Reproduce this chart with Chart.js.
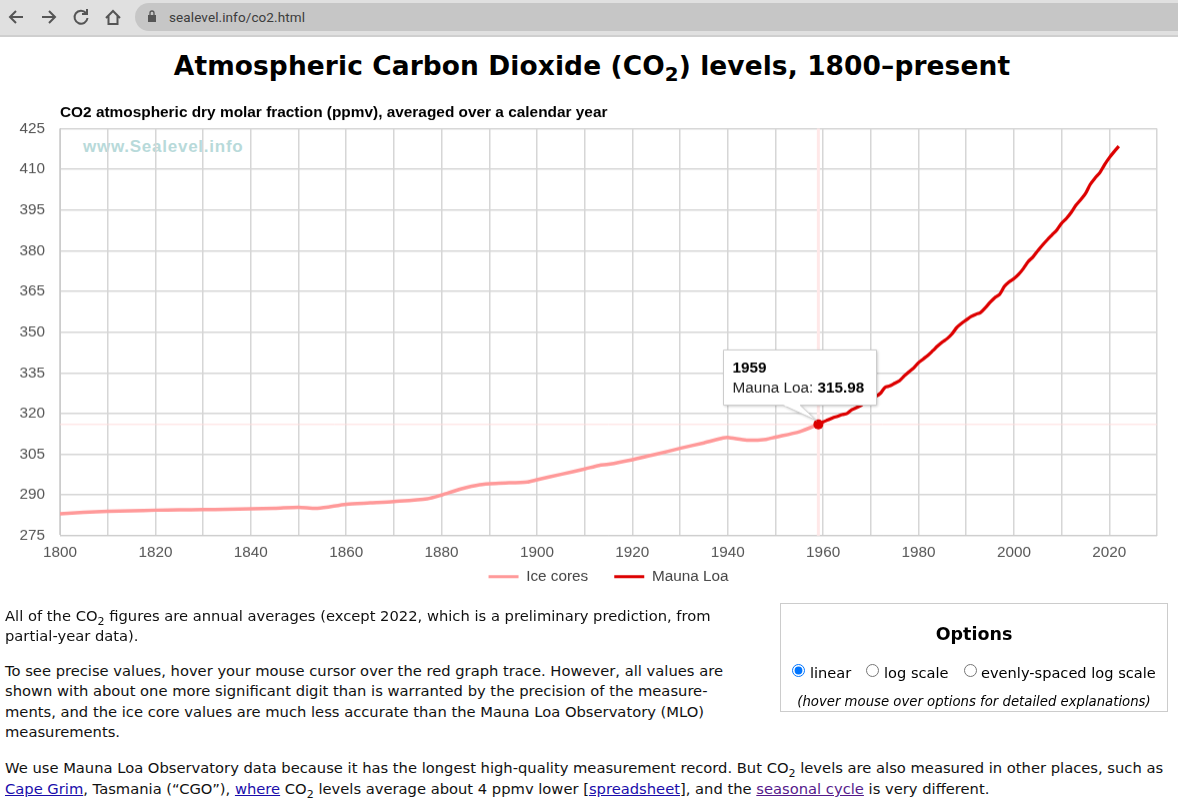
<!DOCTYPE html>
<html><head><meta charset="utf-8">
<script src="https://cdn.jsdelivr.net/npm/chart.js@4"></script>
<style>
html,body{margin:0;padding:0;background:#fff;width:1178px;height:806px;overflow:hidden;font-family:"DejaVu Sans",sans-serif;color:#000}
#bar{position:absolute;left:0;top:0;width:1178px;height:35px;background:#e0e0e0;border-bottom:2px solid #cfcfcf;box-sizing:content-box}
#pill{position:absolute;left:135px;top:3px;width:1043px;height:28px;background:#c6c6c6;border-radius:14px 0 0 14px}
#url{position:absolute;left:169px;top:9px;font:13.5px Roboto,sans-serif;color:#3c3c3c;letter-spacing:.1px}
#bar svg{position:absolute;left:0;top:0}
h1{position:absolute;left:0;top:50px;width:1184px;margin:0;text-align:center;font:bold 26.45px "DejaVu Sans",sans-serif;white-space:nowrap;letter-spacing:.1px}
h1 sub{font-size:.75em;line-height:0}
#mark{position:absolute;left:83px;top:137px;font:bold 17px "Liberation Sans",sans-serif;color:#b8dada;letter-spacing:.75px}
#wrap{position:absolute;left:0;top:100px;width:1178px;height:520.5px}
.t{position:absolute;white-space:nowrap;font-size:14.73px;line-height:20px;left:5px;color:#111}
.t sub{font-size:.75em;line-height:0}
.t a{color:#1a0dab}
.t a.v{color:#551a8b}
#opt{position:absolute;left:780px;top:603px;width:386px;height:107px;border:1px solid #ccc}
#opt div{position:absolute;white-space:nowrap;font-size:14.6px}
#opt input{position:absolute;margin:0;width:13px;height:13px}
</style></head><body>
<div id="bar">
<div id="pill"></div>
<svg width="170" height="35" fill="none" stroke="#555" stroke-width="2">
<path d="M23 17H10M16 11l-6 6 6 6"/>
<path d="M42 17h13M49 11l6 6-6 6"/>
<path d="M86 13a6.5 6.5 0 1 0 1.5 5M87 9v5h-5"/>
<path d="M106 18l7-7 7 7M108.500 16v8h9v-8"/>
<rect x="148" y="15" width="8" height="7" fill="#555" stroke="none"/><path d="M150 15v-2a2 2 0 0 1 4 0v2" stroke-width="1.300"/>
</svg>
<div id="url">sealevel.info/co2.html</div>
</div>
<h1>Atmospheric Carbon Dioxide (CO<sub>2</sub>) levels, 1800–present</h1>
<div id="mark">www.Sealevel.info</div>
<div id="wrap"><canvas id="c"></canvas></div>
<div class="t" style="top:606px">All of the CO<sub>2</sub> figures are annual averages (except 2022, which is a preliminary prediction, from</div>
<div class="t" style="top:626px">partial-year data).</div>
<div class="t" style="top:661px">To see precise values, hover your mouse cursor over the red graph trace. However, all values are</div>
<div class="t" style="top:681px">shown with about one more significant digit than is warranted by the precision of the measure-</div>
<div class="t" style="top:702px">ments, and the ice core values are much less accurate than the Mauna Loa Observatory (MLO)</div>
<div class="t" style="top:722px">measurements.</div>
<div class="t" style="top:758px">We use Mauna Loa Observatory data because it has the longest high-quality measurement record. But CO<sub>2</sub> levels are also measured in other places, such as</div>
<div class="t" style="top:779px"><a href="#">Cape Grim</a>, Tasmania (“CGO”), <a href="#">where</a> CO<sub>2</sub> levels average about 4 ppmv lower [<a href="#">spreadsheet</a>], and the <a class="v" href="#">seasonal cycle</a> is very different.</div>
<div id="opt">
<div style="left:0;width:386px;text-align:center;top:20px;font-weight:bold;font-size:17.5px">Options</div>
<input type="radio" name="o" checked style="left:11px;top:60px">
<div style="left:29px;top:60px">linear</div>
<input type="radio" name="o" style="left:85px;top:60px">
<div style="left:103px;top:60px">log scale</div>
<input type="radio" name="o" style="left:183px;top:60px">
<div style="left:200px;top:60px">evenly-spaced log scale</div>
<div style="left:0;width:386px;text-align:center;top:90px;font-size:13.25px;font-style:italic">(hover mouse over options for detailed explanations)</div>
</div>
<script>
const chartTitle = "CO2 atmospheric dry molar fraction (ppmv), averaged over a calendar year";
const iceYears = [1800,1805,1810,1815,1820,1825,1830,1835,1840,1845,1850,1854,1860,1865,1870,1877,1880,1884,1888,1892,1898,1900,1905,1910,1913,1915,1920,1925,1930,1935,1939,1940,1944,1948,1950,1955,1959];
const iceValues = [283.1,283.6,284.0,284.2,284.4,284.5,284.6,284.7,284.9,285.1,285.5,285.1,286.6,287.1,287.6,288.6,290.0,292.2,293.8,294.3,294.8,295.6,297.6,299.6,300.9,301.3,303.0,305.0,307.2,309.2,311.0,311.2,310.2,310.5,311.3,313.3,315.98];
const mloYears = [1959,1960,1961,1962,1963,1964,1965,1966,1967,1968,1969,1970,1971,1972,1973,1974,1975,1976,1977,1978,1979,1980,1981,1982,1983,1984,1985,1986,1987,1988,1989,1990,1991,1992,1993,1994,1995,1996,1997,1998,1999,2000,2001,2002,2003,2004,2005,2006,2007,2008,2009,2010,2011,2012,2013,2014,2015,2016,2017,2018,2019,2020,2021,2022];
const mloValues = [315.98,316.91,317.64,318.45,318.99,319.62,320.04,321.37,322.18,323.05,324.62,325.68,326.32,327.46,329.68,330.19,331.13,332.03,333.84,335.41,336.84,338.76,340.12,341.48,343.15,344.87,346.35,347.61,349.31,351.69,353.20,354.45,355.70,356.54,357.21,358.96,360.97,362.74,363.88,366.84,368.54,369.71,371.32,373.45,375.98,377.70,379.98,382.09,384.02,385.83,387.64,390.10,391.85,394.06,396.74,398.81,401.01,404.41,406.76,408.72,411.66,414.24,416.45,418.5];
const seriesNames = ["Ice cores","Mauna Loa"];
const hoverYear = 1959, hoverValue = 315.98;
const labelFont = '"Liberation Sans"';

const callout = {
  id:'callout',
  afterLayout(ch){ ch.legend.top -= 27.1; },
  beforeDatasetsDraw(ch){
    const {ctx,chartArea:a,scales:{x,y}} = ch;
    const px=x.getPixelForValue(hoverYear), py=y.getPixelForValue(hoverValue);
    ctx.save();
    ctx.strokeStyle='#ffdcdc';
    ctx.lineWidth=1; ctx.beginPath(); ctx.moveTo(a.left,py); ctx.lineTo(a.right,py); ctx.stroke();
    ctx.strokeStyle='#ffe8e8';
    ctx.lineWidth=3; ctx.beginPath(); ctx.moveTo(px,a.top); ctx.lineTo(px,a.bottom); ctx.stroke();
    ctx.restore();
  },
  afterDraw(ch){
    const {ctx,scales:{x,y}} = ch;
    const px=x.getPixelForValue(hoverYear), py=y.getPixelForValue(hoverValue);
    const bx=723,by=249,bw=153,bh=55;
    ctx.save();
    ctx.beginPath(); ctx.arc(px,py,5,0,Math.PI*2); ctx.fillStyle='#dd0000'; ctx.fill();
    ctx.shadowColor='rgba(0,0,0,.25)'; ctx.shadowBlur=3; ctx.shadowOffsetX=1; ctx.shadowOffsetY=1;
    ctx.fillStyle='#fff'; ctx.strokeStyle='#ccc'; ctx.lineWidth=1;
    ctx.beginPath();
    ctx.moveTo(bx+.5,by+.5); ctx.lineTo(bx+bw+.5,by+.5); ctx.lineTo(bx+bw+.5,by+bh+.5);
    ctx.lineTo(bx+77,by+bh+.5); ctx.lineTo(px-2,py-4); ctx.lineTo(bx+60,by+bh+.5); ctx.lineTo(bx+.5,by+bh+.5);
    ctx.closePath(); ctx.fill(); ctx.shadowColor='transparent'; ctx.stroke();
    ctx.strokeStyle='#fff'; ctx.lineWidth=2; ctx.beginPath(); ctx.moveTo(bx+62,by+bh+.5); ctx.lineTo(bx+75,by+bh+.5); ctx.stroke();
    ctx.textBaseline='alphabetic'; ctx.textAlign='left';
    ctx.fillStyle='#000'; ctx.font='bold 15.3px '+labelFont; ctx.fillText(String(hoverYear),bx+9.5,by+23);
    ctx.fillStyle='#222'; ctx.font='15.3px '+labelFont; const s=seriesNames[1]+': ';
    ctx.fillText(s,bx+9.5,by+43); const w=ctx.measureText(s).width;
    ctx.fillStyle='#000'; ctx.font='bold 15.3px '+labelFont; ctx.fillText(hoverValue.toFixed(2),bx+9.5+w,by+43);
    ctx.restore();
  }
};

new Chart(document.getElementById('c'),{
  type:'line',
  data:{datasets:[
    {label:seriesNames[0],data:iceYears.map((v,i)=>({x:v,y:iceValues[i]})),borderColor:'#ff9999',backgroundColor:'#ff9999',borderWidth:3.5,pointRadius:0,tension:.25},
    {label:seriesNames[1],data:mloYears.map((v,i)=>({x:v,y:mloValues[i]})),borderColor:'#dd0000',backgroundColor:'#dd0000',borderWidth:3.2,pointRadius:0,tension:.25}
  ]},
  plugins:[callout],
  options:{
    responsive:true,maintainAspectRatio:false,animation:false,
    layout:{padding:{left:0,right:21,top:0,bottom:0}},
    scales:{
      x:{type:'linear',min:1800,max:2030,
        grid:{color:'#d6d6d6',lineWidth:1.5,drawTicks:false},border:{color:'#ccc'},
        ticks:{stepSize:10,autoSkip:false,maxRotation:0,padding:8,color:'#555',font:{family:labelFont,size:15.3},callback:v=>v%20===0&&v<2030?String(v):''}},
      y:{type:'linear',min:275,max:425,
        afterFit(s){s.width=60},
        grid:{color:'#d6d6d6',lineWidth:1.5,drawTicks:false},border:{color:'#ccc'},
        ticks:{stepSize:15,padding:15,color:'#555',font:{family:labelFont,size:15.3},callback:v=>String(v)}}
    },
    plugins:{
      tooltip:{enabled:false},
      title:{display:true,fullSize:false,text:chartTitle,align:'start',color:'#000',font:{family:labelFont,size:15.4,weight:'bold'},padding:{top:4,bottom:6}},
      legend:{position:'bottom',fullSize:false,labels:{boxWidth:30,boxHeight:3,color:'#444',font:{family:labelFont,size:15.3},padding:26,
        generateLabels:c=>Chart.defaults.plugins.legend.labels.generateLabels(c).map(l=>({...l,lineWidth:0}))}}
    }
  }
});
</script>
</body></html>
